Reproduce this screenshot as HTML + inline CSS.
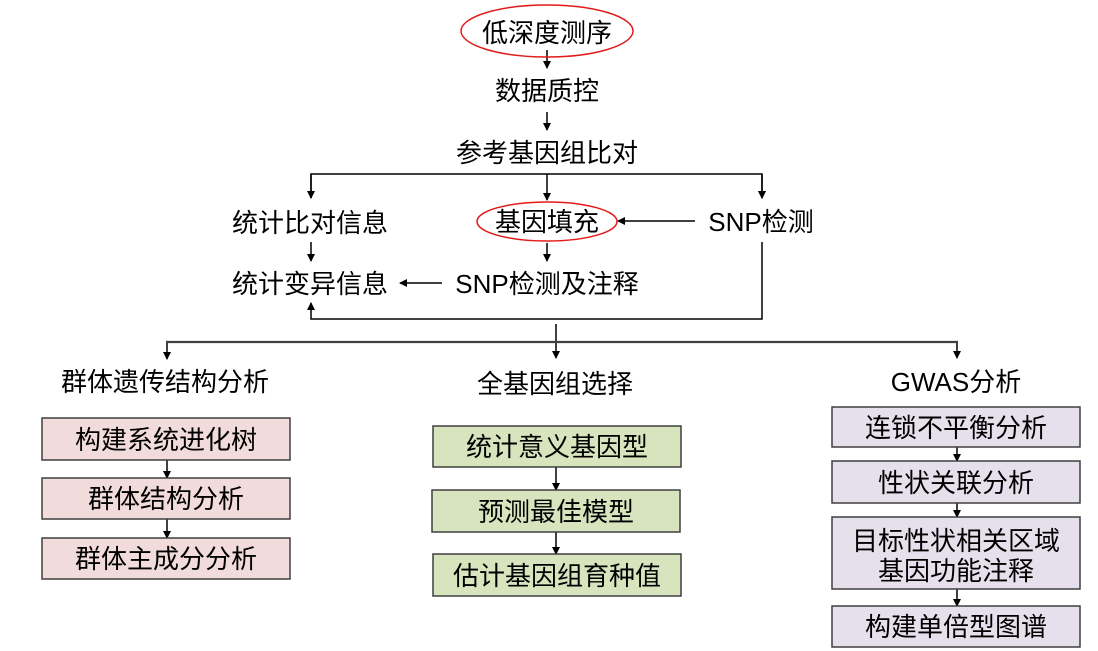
<!DOCTYPE html>
<html><head><meta charset="utf-8"><style>
html,body{margin:0;padding:0;background:#fff;}
svg{display:block;}
text{font-family:"Liberation Sans","Noto Sans CJK SC",sans-serif;font-size:26px;fill:#000;text-anchor:middle;}
</style></head><body>
<svg width="1098" height="651" viewBox="0 0 1098 651" xmlns="http://www.w3.org/2000/svg">
<defs>
<marker id="ah" markerWidth="8" markerHeight="8" refX="7" refY="4" orient="auto" markerUnits="userSpaceOnUse">
<path d="M0,0 L8,4 L0,8 z" fill="#000"/>
</marker>
</defs>
<g stroke="#000" stroke-width="1.5" fill="none">
<!-- top chain -->
<line x1="547" y1="50" x2="547" y2="68" marker-end="url(#ah)"/>
<line x1="547" y1="112" x2="547" y2="130" marker-end="url(#ah)"/>
<polyline points="311,198 311,174 762,174 762,198" marker-end="url(#ah)"/>
<line x1="311" y1="174" x2="311" y2="198" marker-end="url(#ah)"/>
<line x1="547" y1="174" x2="547" y2="200" marker-end="url(#ah)"/>
<line x1="762" y1="174" x2="762" y2="198" marker-end="url(#ah)"/>
<line x1="695" y1="221" x2="618" y2="221" marker-end="url(#ah)"/>
<line x1="311" y1="242" x2="311" y2="261" marker-end="url(#ah)"/>
<line x1="547" y1="243" x2="547" y2="261" marker-end="url(#ah)"/>
<line x1="442" y1="283" x2="400" y2="283" marker-end="url(#ah)"/>
<polyline points="762,242 762,319 311,319 311,303" marker-end="url(#ah)"/>
<line x1="556" y1="324" x2="556" y2="358" marker-end="url(#ah)"/>
<line x1="167" y1="342" x2="167" y2="359" marker-end="url(#ah)"/>
<line x1="957" y1="342" x2="957" y2="358" marker-end="url(#ah)"/>
<!-- box arrows -->
<line x1="167" y1="460" x2="167" y2="478" marker-end="url(#ah)"/>
<line x1="167" y1="519" x2="167" y2="538" marker-end="url(#ah)"/>
<line x1="556" y1="467" x2="556" y2="490" marker-end="url(#ah)"/>
<line x1="556" y1="532" x2="556" y2="554" marker-end="url(#ah)"/>
<line x1="957" y1="447" x2="957" y2="461" marker-end="url(#ah)"/>
<line x1="957" y1="503" x2="957" y2="517" marker-end="url(#ah)"/>
<line x1="957" y1="589" x2="957" y2="606" marker-end="url(#ah)"/>
</g>
<line x1="166" y1="342" x2="958" y2="342" stroke="#404040" stroke-width="2.2"/>

<!-- ellipses -->
<ellipse cx="547" cy="31" rx="86" ry="26" fill="none" stroke="#e31a1a" stroke-width="1.5"/>
<ellipse cx="547" cy="221.5" rx="70" ry="19.5" fill="none" stroke="#e31a1a" stroke-width="1.5"/>

<!-- boxes -->
<g stroke="#3f3f3f" stroke-width="1.5">
<rect x="42" y="418" width="248" height="42" fill="#f2dcdb"/>
<rect x="42" y="478" width="248" height="41" fill="#f2dcdb"/>
<rect x="42" y="538" width="248" height="41" fill="#f2dcdb"/>
<rect x="433" y="426" width="248" height="41" fill="#d7e4bd"/>
<rect x="432" y="490" width="248" height="42" fill="#d7e4bd"/>
<rect x="433" y="554" width="248" height="42" fill="#d7e4bd"/>
<rect x="832" y="407" width="248" height="40" fill="#e5e0ec"/>
<rect x="832" y="461" width="248" height="42" fill="#e5e0ec"/>
<rect x="832" y="517" width="248" height="72" fill="#e5e0ec"/>
<rect x="832" y="606" width="248" height="41" fill="#e5e0ec"/>
</g>

<!-- texts -->
<text x="547" y="42">低深度测序</text>
<text x="547" y="100">数据质控</text>
<text x="547" y="162">参考基因组比对</text>
<text x="310" y="232">统计比对信息</text>
<text x="547" y="231">基因填充</text>
<text x="761" y="231">SNP检测</text>
<text x="310" y="293">统计变异信息</text>
<text x="547" y="293">SNP检测及注释</text>
<text x="165" y="391">群体遗传结构分析</text>
<text x="555" y="393">全基因组选择</text>
<text x="956" y="391">GWAS分析</text>

<text x="166" y="449">构建系统进化树</text>
<text x="166" y="508">群体结构分析</text>
<text x="166" y="568">群体主成分分析</text>
<text x="557" y="456">统计意义基因型</text>
<text x="556" y="521">预测最佳模型</text>
<text x="557" y="585">估计基因组育种值</text>
<text x="956" y="437">连锁不平衡分析</text>
<text x="956" y="492">性状关联分析</text>
<text x="956" y="550">目标性状相关区域</text>
<text x="956" y="580">基因功能注释</text>
<text x="956" y="636">构建单倍型图谱</text>
</g>
</svg>
</body></html>
